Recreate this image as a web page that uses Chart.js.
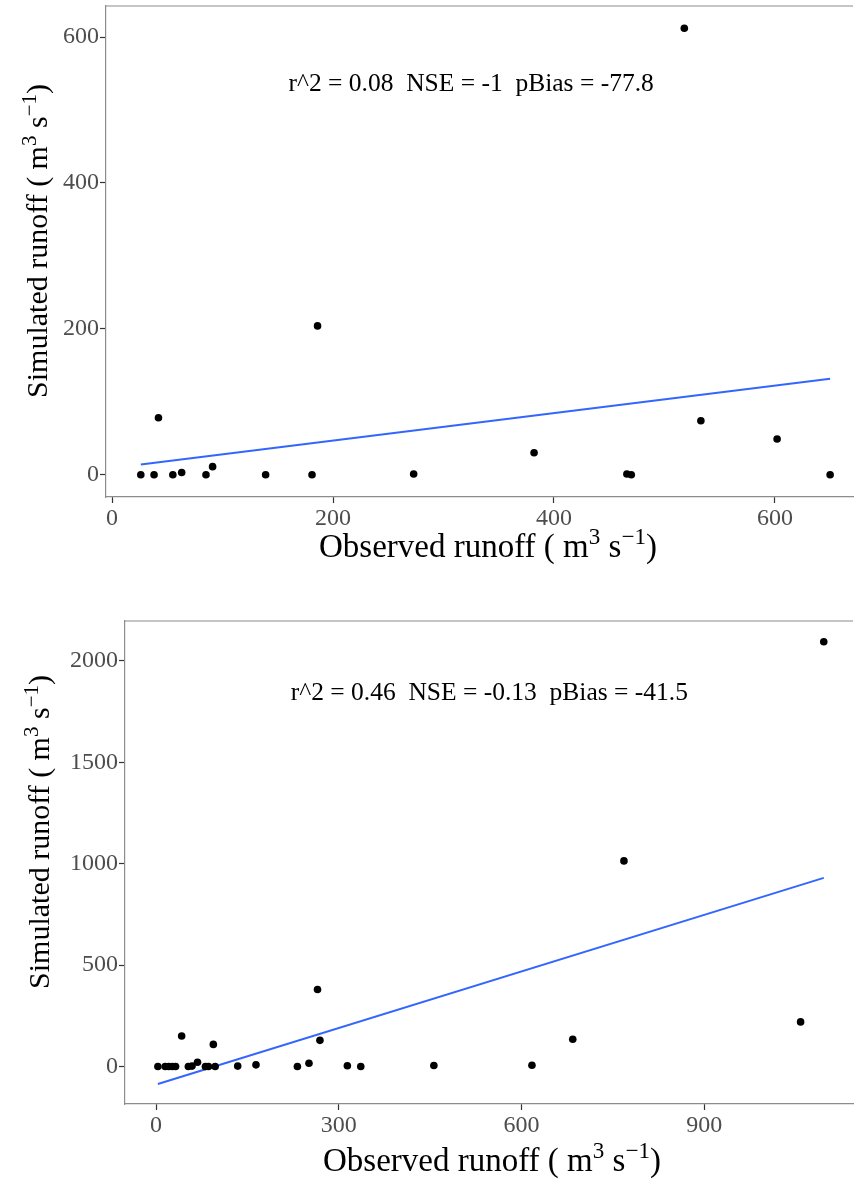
<!DOCTYPE html>
<html>
<head>
<meta charset="utf-8">
<script src="https://cdn.jsdelivr.net/npm/chart.js@4.4.1/dist/chart.umd.min.js"></script>
<style>
  body { margin: 0; background: #fff; }
  canvas { display: block; }
</style>
</head>
<body>
<canvas id="topChart" width="857" height="590"></canvas>
<canvas id="bottomChart" width="857" height="591"></canvas>
<script>
// top panel: observed vs simulated runoff
const obs1 = [26, 38, 42, 55, 63, 85, 91, 139, 181, 186, 273, 382, 466, 470, 518, 533, 602, 650];
const sim1 = [0, 0, 78, 0, 3, 0, 11, 0, 0, 204, 1, 30, 1, 0, 612, 74, 49, 0];
const fitX1 = [26, 650];
const fitY1 = [14, 131.5];
const xTicks1 = [0, 200, 400, 600];
const yTicks1 = [0, 200, 400, 600];
const stats1 = 'r^2 = 0.08  NSE = -1  pBias = -77.8';

// bottom panel
const obs2 = [3, 15, 21, 27, 32, 42, 53, 59, 68, 81, 86, 94, 97, 134, 164, 232, 251, 265, 269, 314, 336, 456, 617, 684, 768, 1058, 1096];
const sim2 = [0, 0, 0, 0, 0, 150, 0, 2, 21, 0, 0, 109, 0, 2, 8, 0, 16, 380, 129, 4, 0, 5, 6, 134, 1014, 220, 2095];
const fitX2 = [3, 1096];
const fitY2 = [-86, 930];
const xTicks2 = [0, 300, 600, 900];
const yTicks2 = [0, 500, 1000, 1500, 2000];
const stats2 = 'r^2 = 0.46  NSE = -0.13  pBias = -41.5';

const xTitle = [{ t: 'Observed runoff ( m' }, { t: '3', sup: true }, { t: ' s' }, { t: '\u22121', sup: true }, { t: ')' }];
const yTitle = [{ t: 'Simulated runoff ( m' }, { t: '3', sup: true }, { t: ' s' }, { t: '\u22121', sup: true }, { t: ')' }];

const FONT = '"Liberation Serif", "Times New Roman", serif';

function toPoints(xs, ys) {
    return xs.map((v, i) => ({ x: v, y: ys[i] }));
}

// draws a title with superscripts, centred on (cx, baseline)
function drawRich(ctx, parts, cx, cy, size, vertical) {
    ctx.save();
    ctx.translate(cx, cy);
    if (vertical) ctx.rotate(-Math.PI / 2);
    let total = 0;
    parts.forEach(p => {
        ctx.font = (p.sup ? size * 0.7 : size) + 'px ' + FONT;
        p.w = ctx.measureText(p.t).width;
        total += p.w;
    });
    let pos = -total / 2;
    ctx.textAlign = 'left';
    ctx.textBaseline = 'alphabetic';
    ctx.fillStyle = '#000';
    parts.forEach(p => {
        ctx.font = (p.sup ? size * 0.7 : size) + 'px ' + FONT;
        ctx.fillText(p.t, pos, p.sup ? -size * 0.38 : 0);
        pos += p.w;
    });
    ctx.restore();
}

const panelDecor = {
    id: 'panelDecor',
    afterDraw(chart, args, o) {
        const { ctx, chartArea: a, scales: { x, y } } = chart;
        ctx.save();
        ctx.strokeStyle = '#8c8c8c';
        ctx.lineWidth = 1.2;
        ctx.beginPath();
        ctx.moveTo(a.left, a.top);
        ctx.lineTo(a.right, a.top);
        ctx.stroke();

        ctx.fillStyle = '#000';
        ctx.font = '25.5px ' + FONT;
        ctx.textAlign = 'center';
        ctx.textBaseline = 'middle';
        ctx.fillText(o.stats, x.getPixelForValue(o.statsAt[0]), y.getPixelForValue(o.statsAt[1]));

        drawRich(ctx, xTitle, o.xTitleAt[0], o.xTitleAt[1], 33, false);
        drawRich(ctx, yTitle, o.yTitleAt[0], o.yTitleAt[1], 30, true);
        ctx.restore();
    }
};

function axis(min, max, ticks, size) {
    return {
        type: 'linear',
        min: min,
        max: max,
        afterBuildTicks: s => { s.ticks = ticks.map(v => ({ value: v })); },
        afterFit: s => {
            if (s.isHorizontal()) s.height = size; else s.width = size;
            s.paddingTop = 0;
            s.paddingBottom = 0;
            s.paddingLeft = 0;
            s.paddingRight = 0;
        },
        grid: { drawOnChartArea: false, drawTicks: true, tickLength: 6, tickColor: '#333333', tickWidth: 1.2 },
        border: { display: true, color: '#8c8c8c', width: 1.2 },
        ticks: {
            color: '#4d4d4d',
            font: { family: FONT, size: 24 },
            padding: 1,
            autoSkip: false,
            maxRotation: 0,
            callback: v => String(v)
        }
    };
}

function createPanel(id, obs, sim, fitX, fitY, xr, yr, xTicks, yTicks, xh, yw, padTop, decor) {
    const ctx = document.getElementById(id).getContext('2d');
    return new Chart(ctx, {
        type: 'scatter',
        data: {
            datasets: [{
                data: toPoints(obs, sim),
                backgroundColor: '#000',
                borderWidth: 0,
                pointRadius: 3.8
            }, {
                type: 'line',
                data: toPoints(fitX, fitY),
                borderColor: '#3366ff',
                borderWidth: 2,
                pointRadius: 0,
                fill: false
            }]
        },
        options: {
            responsive: false,
            animation: false,
            layout: { padding: { top: padTop, right: 0, left: 0, bottom: 0 } },
            plugins: { legend: { display: false }, tooltip: { enabled: false }, panelDecor: decor },
            scales: {
                x: axis(xr[0], xr[1], xTicks, xh),
                y: axis(yr[0], yr[1], yTicks, yw)
            }
        },
        plugins: [panelDecor]
    });
}

createPanel('topChart', obs1, sim1, fitX1, fitY1, [-5.5, 670.7], [-30.6, 642.6], xTicks1, yTicks1, 93, 106, 6,
    { stats: stats1, statsAt: [325, 535], xTitleAt: [488, 557], yTitleAt: [47, 241] });

createPanel('bottomChart', obs2, sim2, fitX2, fitY2, [-51, 1144], [-185, 2197], xTicks2, yTicks2, 77, 125, 31,
    { stats: stats2, statsAt: [547, 1840], xTitleAt: [492, 581], yTitleAt: [49, 242] });
</script>
</body>
</html>
